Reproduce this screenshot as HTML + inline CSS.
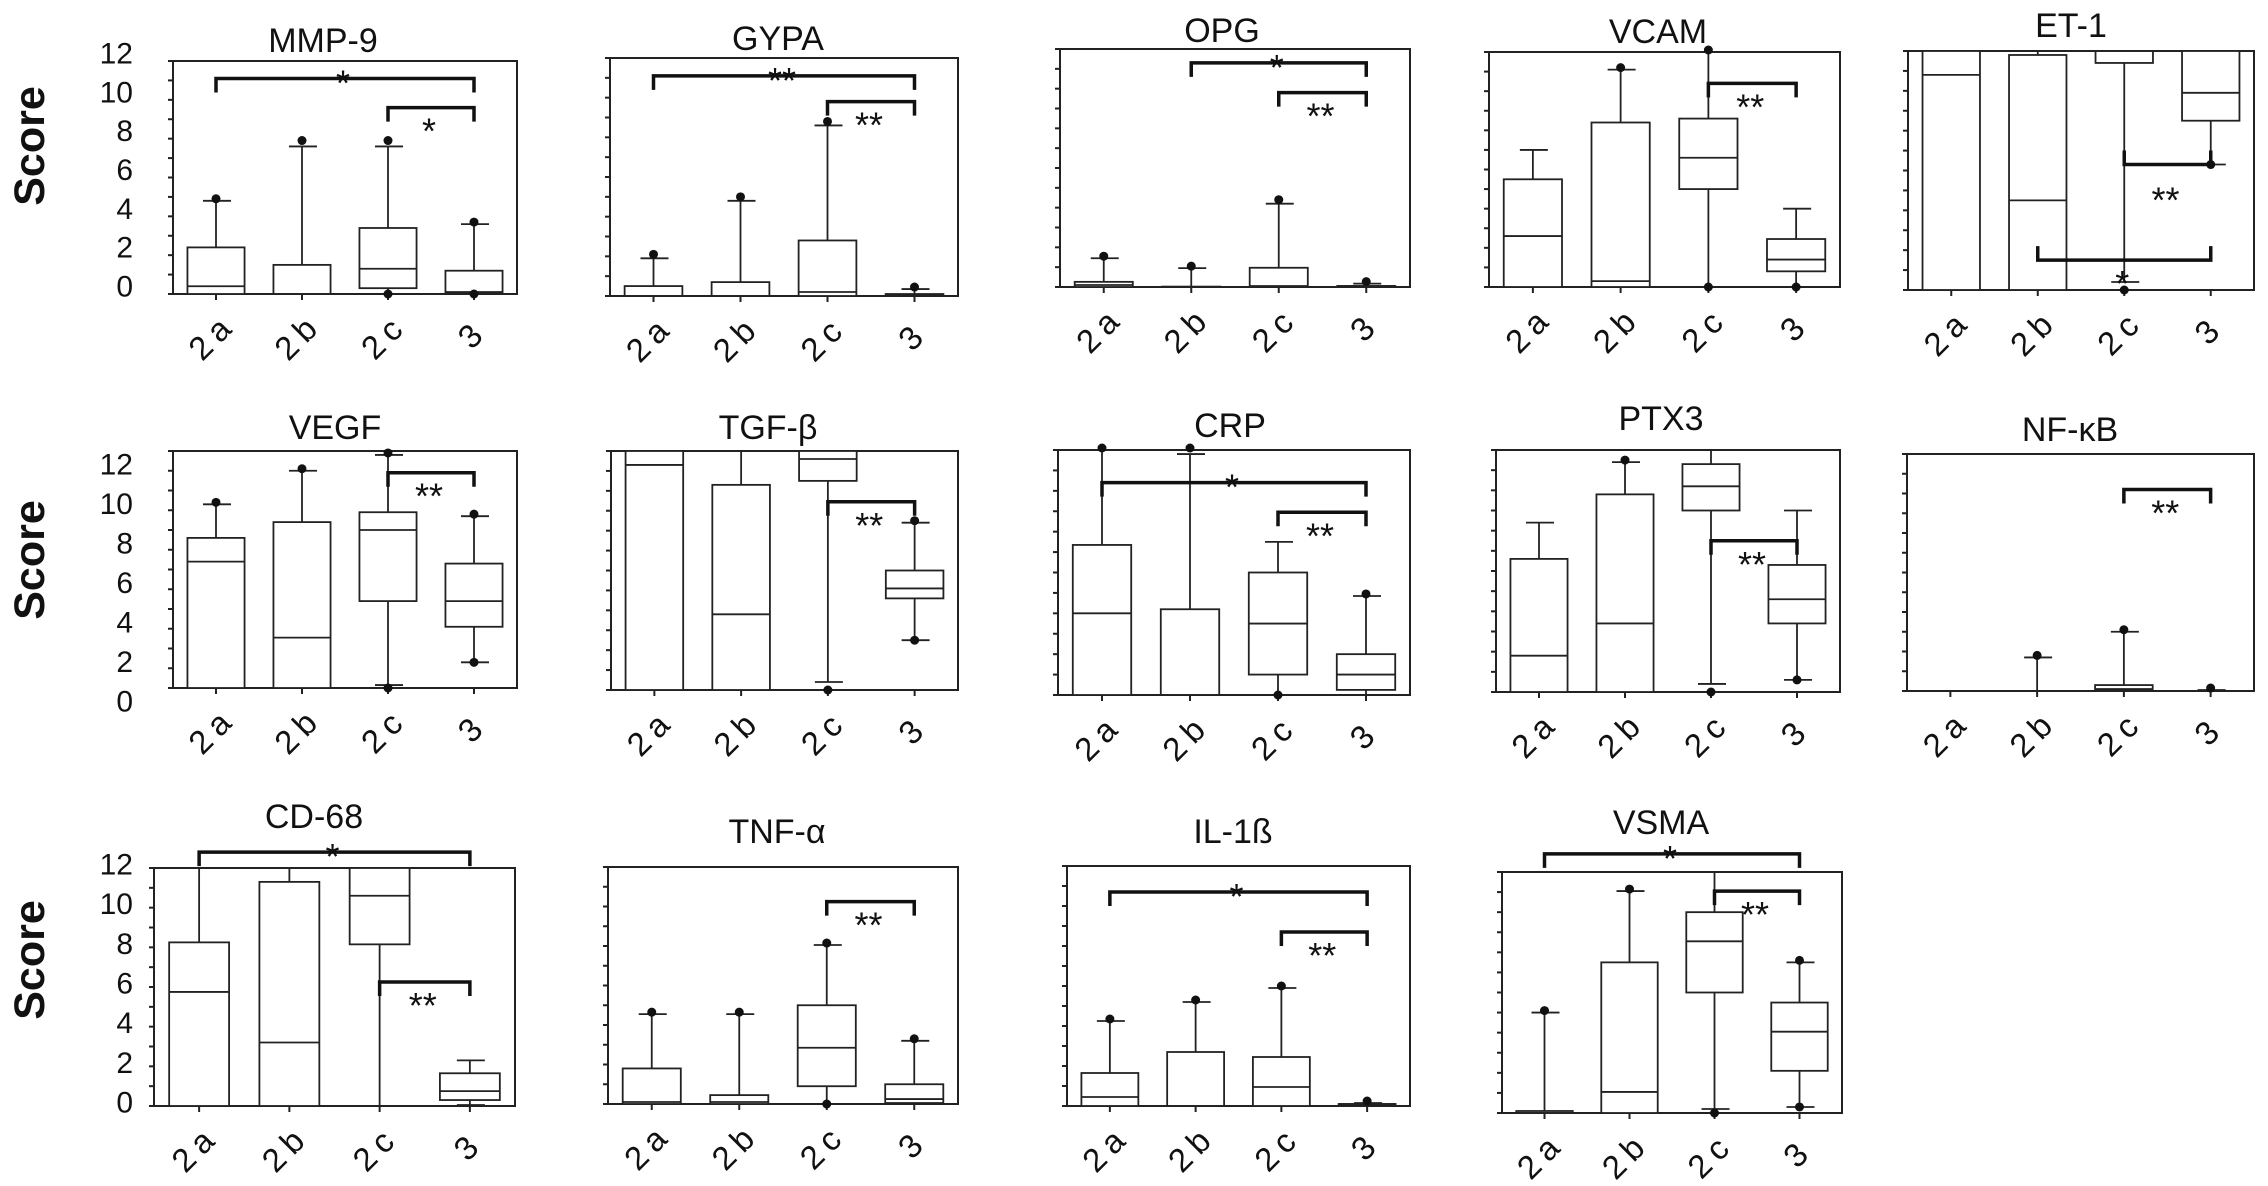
<!DOCTYPE html>
<html><head><meta charset="utf-8"><style>
html,body{margin:0;padding:0;background:#fff}
svg{display:block}
text{font-family:"Liberation Sans",Arial,sans-serif;fill:#111}
</style></head><body>
<svg id="fig" width="2268" height="1186" viewBox="0 0 2268 1186" xmlns="http://www.w3.org/2000/svg"></svg>
<script>
// ---- data ----
const panelNames = ["MMP-9","GYPA","OPG","VCAM","ET-1","VEGF","TGF-β","CRP","PTX3","NF-κB","CD-68","TNF-α","IL-1ß","VSMA"];
const categories = ["2a","2b","2c","3"];
const yTicks = [0,2,4,6,8,10,12];
const q1Values = [[0,0,0.3,0.05],[0,0,0,0],[0,0,0,0.03],[0,0,5.0,0.8],[0,0,11.4,8.5],[0,0,4.4,3.1],[0,0,10.5,4.6],[0,0,1.0,0.25],[0,0,9.0,3.4],[0,0,0.05,0],[0,0,8.15,0.3],[0,0,0.9,0.05],[0,0,0,0.05],[0,0,6.0,2.1]];
const medianValues = [[0.4,0,1.3,0.1],[0,0,0.2,0.05],[0.1,0,0.05,0.05],[2.6,0.3,6.6,1.4],[10.8,4.5,12,9.9],[6.4,2.55,8.0,4.4],[11.3,3.8,11.6,5.1],[4.0,0,3.5,1.0],[1.8,3.4,10.2,4.6],[0,0,0.1,0],[5.75,3.2,10.6,0.75],[0.1,0.1,2.85,0.25],[0.45,0,0.95,0.1],[0,1.05,8.55,4.05]];
const q3Values = [[2.4,1.5,3.4,1.2],[0.5,0.7,2.8,0.1],[0.26,0.02,0.97,0.05],[5.5,8.4,8.6,2.45],[12,11.8,12,12],[7.6,8.4,8.9,6.3],[12,10.3,12,6.0],[7.35,4.2,6.0,2.0],[6.6,9.8,11.3,6.3],[0,0,0.3,0],[8.25,11.3,12,1.65],[1.8,0.45,5.0,1.0],[1.65,2.7,2.45,0.1],[0.1,7.5,10.0,5.5]];
const whiskerHigh = [[4.8,7.6,7.6,3.6],[1.9,4.8,8.6,0.35],[1.45,0.95,4.2,0.17],[7.0,11.1,12,4.0],[12,12,12,12],[9.3,11.0,11.8,8.7],[12,12,12,8.4],[12,11.8,7.5,4.85],[8.4,11.4,12,9.0],[0,1.7,3.0,0.05],[12,12,12,2.3],[4.55,4.55,8.05,3.2],[4.25,5.2,5.9,0.15],[5.0,11.05,12,7.5]];
const whiskerLow = [[0,0,0,0],[0,0,0,0],[0,0,0,0],[0,0,0,0],[0,0,0.4,6.3],[0,0,0.15,1.3],[0,0,0.4,2.5],[0,0,0,0],[0,0,0.4,0.6],[0,0,0,0],[0,0,0,0.05],[0,0,0,0],[0,0,0,0],[0,0,0.2,0.3]];
const highDots = [[4.8,7.8,7.8,3.6],[2.0,4.9,8.7,0.35],[1.45,0.95,4.3,0.17],[null,11.1,12,null],[null,null,null,null],[9.3,11.0,11.8,8.7],[null,null,null,8.4],[12,12,null,4.85],[null,11.4,null,null],[null,1.7,3.0,0.05],[null,null,null,null],[4.55,4.55,8.05,3.2],[4.25,5.2,5.9,0.15],[5.0,11.05,null,7.5]];
const lowDots = [[null,null,0,0],[null,null,null,null],[null,null,null,null],[null,null,0,0],[null,null,0,6.3],[null,null,0,1.3],[null,null,0,2.5],[null,null,0,null],[null,null,0,0.6],[null,null,null,null],[null,null,null,null],[null,null,0,null],[null,null,null,null],[null,null,0,0.3]];
// brackets: [fromIdx, toIdx, yValue, label, legDirection, labelPosition]
const brackets = [
 [[0,3,11.1,"*","down","above"],[2,3,9.6,"*","down","below"]],
 [[0,3,11.1,"**","down","above"],[2,3,9.8,"**","down","below"]],
 [[1,3,11.3,"*","down","above"],[2,3,9.8,"**","down","below"]],
 [[2,3,10.4,"**","down","below"]],
 [[2,3,6.3,"**","up","below2"],[1,3,1.5,"*","up","below"]],
 [[2,3,10.9,"**","down","below"]],
 [[2,3,9.45,"**","down","below"]],
 [[0,3,10.4,"*","down","above"],[2,3,8.95,"**","down","below"]],
 [[2,3,7.5,"**","down","below"]],
 [[2,3,10.2,"**","down","below"]],
 [[0,3,12.8,"*","down","above"],[2,3,6.25,"**","down","below"]],
 [[2,3,10.25,"**","down","below"]],
 [[0,3,10.7,"*","down","above"],[2,3,8.7,"**","down","below"]],
 [[0,3,12.9,"*","down","above"],[2,3,11.05,"**","down","below"]]
];
// ---- layout (pixel frames, not data) ----
const frames = [
 [173,517,61,294],[610,958,58,296],[1060,1410,49,287],[1489,1840,52,287],[1908,2254,51,290],
 [173,517,451,688],[611,958,451,690],[1058,1410,450,695],[1496,1840,450,692],[1907,2254,454,691],
 [154,515,868,1106],[608,958,867,1104],[1067,1410,866,1106],[1502,1842,872,1113]
];
const titlePos = [[323,52],[778,50],[1222,42],[1658,43],[2071,37],[335,439],[768,439],[1230,437],[1661,430],[2070,441],[314,828],[777,843],[1233,843],[1661,834]];
const yLabelPanels = {0:-7,5:14,10:-3};
const scoreY = [146,560,960];

const NS="http://www.w3.org/2000/svg";
const svg=document.getElementById('fig');
function mk(tag,attrs,parent){const e=document.createElementNS(NS,tag);for(const k in attrs)e.setAttribute(k,attrs[k]);(parent||svg).appendChild(e);return e;}

scoreY.forEach((cy,i)=>{
  const t=mk('text',{x:0,y:0,'font-size':43,'font-weight':'bold','text-anchor':'middle','dominant-baseline':'central',transform:`translate(30,${cy}) rotate(-90)`});
  
  
  t.textContent='Score';
});

panelNames.forEach((name,p)=>{
  const [x0,x1,yt,yb]=frames[p];
  const g=mk('g',{});
  
  
  const W=x1-x0;
  const xs=i=>x0+W*(i+0.5)/4;
  const ys=v=>yb-(yb-yt)*v/12;
  const bw=W*0.166;
  const tt=mk('text',{x:titlePos[p][0],y:titlePos[p][1],'font-size':34,'text-anchor':'middle'},g);
  
  
  tt.textContent=name;
  const fr=mk('rect',{x:x0,y:yt,width:W,height:yb-yt,fill:'none',stroke:'#222','stroke-width':2},g);
  
  
  for(let v=0;v<=12;v++){
    const tk=mk('line',{x1:x0-5,x2:x0,y1:ys(v),y2:ys(v),stroke:'#222','stroke-width':2},g);
    
    
  }
  if(p in yLabelPanels){
    yTicks.forEach(v=>{
      const tl=mk('text',{x:133,y:ys(v)+yLabelPanels[p],'font-size':30,'text-anchor':'end','dominant-baseline':'central'},g);
      
      
      tl.textContent=v;
    });
  }
  categories.forEach((c,i)=>{
    const cx=xs(i);
    const xt=mk('line',{x1:cx,x2:cx,y1:yb,y2:yb+6,stroke:'#222','stroke-width':2},g);
    
    
    const xl=mk('text',{x:0,y:0,'font-size':33,'text-anchor':'middle','dominant-baseline':'central','letter-spacing':c.length>1?7:0,transform:`translate(${cx-4},${yb+42}) rotate(-45)`},g);
    
    
    xl.textContent=c;
    const q1=q1Values[p][i],md=medianValues[p][i],q3=q3Values[p][i],hi=whiskerHigh[p][i],lo=whiskerLow[p][i];
    const bg=mk('g',{stroke:'#222','stroke-width':1.8,fill:'none'},g);
    
    
    if(hi>q3){
      const w=mk('line',{x1:cx,x2:cx,y1:ys(q3),y2:ys(hi)},bg);
      
      
      if(hi<12){const cap=mk('line',{x1:cx-13,x2:cx+15,y1:ys(hi),y2:ys(hi)},bg);
      
      }
    }
    if(lo<q1){
      const w=mk('line',{x1:cx,x2:cx,y1:ys(q1),y2:ys(lo)},bg);
      
      
      if(lo>0){const cap=mk('line',{x1:cx-13,x2:cx+15,y1:ys(lo),y2:ys(lo)},bg);
      
      }
    }
    if(q3>q1){
      const r=mk('rect',{x:cx-bw/2,y:ys(q3),width:bw,height:ys(q1)-ys(q3),fill:'#fff'},bg);
      
      
      const m=mk('line',{x1:cx-bw/2,x2:cx+bw/2,y1:ys(md),y2:ys(md)},bg);
      
      
    }
    [highDots[p][i],lowDots[p][i]].forEach((d,k)=>{
      if(d===null)return;
      const dot=mk('circle',{cx:cx,cy:ys(d)-(k===0?2:0),r:4.5,fill:'#111',stroke:'none'},g);
      
      
    });
  });
  brackets[p].forEach(b=>{
    const [a,c,v,lab,leg,pos]=b;
    const xa=xs(a),xc=xs(c),y=ys(v),dl=leg==='down'?14:-14;
    const bl=mk('path',{d:`M${xa},${y+dl}V${y}H${xc}V${y+dl}`,fill:'none',stroke:'#111','stroke-width':3.5},g);
    
    
    let cy=pos==='above'?y-3:(pos==='below2'?y+28:y+16);
    const st=mk('text',{x:(xa+xc)/2-2,y:cy+20,'font-size':36,'text-anchor':'middle'},g);
    
    
    st.textContent=lab;
  });
});
</script>
</body></html>
